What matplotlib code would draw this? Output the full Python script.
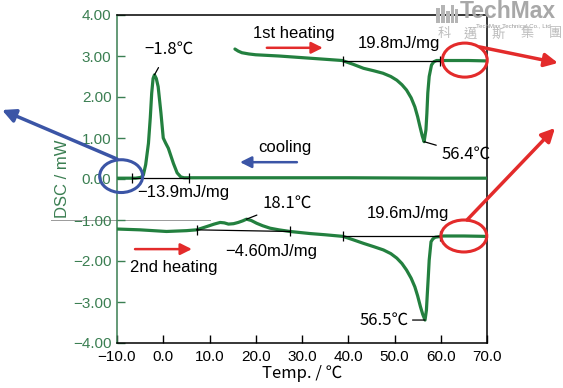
import numpy as np
import matplotlib.pyplot as plt
from matplotlib.patches import Ellipse, FancyArrowPatch, Rectangle

plt.rcParams['font.family'] = ['Liberation Sans', 'Noto Sans CJK JP']

# ---- data ----
cool_T = [-10, -6, -4.8, -4.3, -3.8, -3.2, -2.8, -2.5, -2.2, -1.9, -1.5, -1.1, -0.5, 0.0,
          0.5, 1.1, 2.2, 3.0, 3.8, 4.5, 10, 40, 60, 70]
cool_Q = [0.02, 0.02, 0.04, 0.10, 0.35, 0.87, 1.50, 2.09, 2.45, 2.54, 2.45, 2.25, 1.61, 1.00,
          0.88, 0.75, 0.38, 0.15, 0.05, 0.03, 0.03, 0.03, 0.02, 0.02]

heat1_T = [15.5, 16.2, 17, 18.5, 20, 25, 30, 35, 38.7, 41, 43.3, 45.5, 47.5, 49.2, 50.5,
           51.6, 52.6, 53.6, 54.4, 55.0, 55.5, 56.0, 56.4, 56.8, 57.0, 57.2, 57.5, 58.0,
           58.5, 59.1, 62, 66, 70]
heat1_Q = [3.17, 3.12, 3.08, 3.05, 3.03, 3.00, 2.96, 2.92, 2.89, 2.80, 2.70, 2.64, 2.58,
           2.50, 2.41, 2.30, 2.17, 1.98, 1.76, 1.52, 1.28, 1.05, 0.91, 1.20, 1.60, 2.10,
           2.50, 2.78, 2.86, 2.89, 2.89, 2.89, 2.88]

heat2_T = [-10, -5, 0.7, 5, 7.2, 9.4, 11, 12.3, 13.2, 14.1, 15.2, 16.2, 17.2, 18.0, 19.0,
           20.2, 21.5, 23.1, 25, 27.4, 31.7, 35, 38.9, 41, 43.3, 45.5, 47.6, 49.2, 50.5,
           51.6, 52.6, 53.6, 54.4, 55.0, 55.6, 56.1, 56.6, 56.9, 57.1, 57.3, 57.5, 57.9,
           58.3, 58.8, 60.6, 65, 70]
heat2_Q = [-1.22, -1.24, -1.28, -1.26, -1.24, -1.16, -1.10, -1.06, -1.07, -1.10, -1.09,
           -1.06, -1.02, -0.98, -1.01, -1.08, -1.14, -1.20, -1.24, -1.28, -1.33, -1.36,
           -1.40, -1.48, -1.57, -1.65, -1.73, -1.82, -1.93, -2.06, -2.22, -2.42, -2.63,
           -2.85, -3.11, -3.30, -3.44, -3.20, -2.79, -2.40, -1.98, -1.53, -1.46, -1.42,
           -1.39, -1.39, -1.40]

# integration baselines
base_cool = ([-6.8, 5.6], [0.02, 0.02])
base_h1 = ([38.8, 59.8], [2.89, 2.89])
base_h2a = ([7.2, 27.4], [-1.24, -1.28])
base_h2b = ([38.9, 59.8], [-1.40, -1.40])

enthalpy = ['−13.9mJ/mg', '19.8mJ/mg', '−4.60mJ/mg', '19.6mJ/mg']
peak_labels = ['−1.8℃', '56.4℃', '18.1℃', '56.5℃']

xticks = [-10, 0, 10, 20, 30, 40, 50, 60, 70]
yticks = [-4, -3, -2, -1, 0, 1, 2, 3, 4]

green = '#23803f'
tickgreen = '#3b7f52'
red = '#e32b2b'
blue = '#3b55a6'
cjk = ['Noto Sans CJK JP']

W, H = 563, 388
fig = plt.figure(figsize=(W / 100, H / 100), dpi=100)
ax = fig.add_axes([117 / W, 1 - 343 / H, 370 / W, 328 / H])

def px(x, y):
    # figure pixel (from top-left) to figure fraction
    return (x / W, 1 - y / H)

for T, Q in [(cool_T, cool_Q), (heat1_T, heat1_Q), (heat2_T, heat2_Q)]:
    ax.plot(T, Q, color=green, lw=2.3, solid_capstyle='round', zorder=3)

for bx, by in [base_cool, base_h1, base_h2a, base_h2b]:
    ax.plot(bx, by, color='black', lw=0.9, marker='|', ms=7, mew=0.9, zorder=4)

ax.set_xlim(-10, 70)
ax.set_ylim(-4, 4)
ax.set_xticks(xticks)
ax.set_xticklabels([f'{v:.1f}'.replace('-', '−') for v in xticks])
ax.set_yticks(yticks)
ax.set_yticklabels([f'{v:.2f}'.replace('-', '−') for v in yticks])
ax.tick_params(axis='x', direction='in', length=6, width=1, labelsize=11, pad=5)
ax.tick_params(axis='y', direction='in', length=6, width=1, labelsize=11, pad=4,
               colors=tickgreen)
ax.spines['left'].set_color(tickgreen)
for s in ['top', 'right', 'bottom']:
    ax.spines[s].set_color('black')
for s in ax.spines.values():
    s.set_linewidth(1.1)

ax.set_ylabel('DSC / mW', color=tickgreen, fontsize=12)
ax.yaxis.set_label_coords(-0.128, 0.5)
ax.set_xlabel('Temp. / ℃', fontsize=12, family=cjk)
ax.xaxis.set_label_coords(0.5, -0.068)

# faint guide line at -1.00 reaching out of the axes
ax.plot([-24.3, 10], [-1.0, -1.0], color='#9a9a9a', lw=0.7, clip_on=False, zorder=1)

# peak annotations
i = int(np.argmax(cool_Q))
ax.annotate(peak_labels[0], xy=(cool_T[i], cool_Q[i]), xytext=(1.2, 3.17),
            ha='center', va='center', fontsize=12, family=cjk,
            arrowprops=dict(arrowstyle='-', lw=0.9, color='black', shrinkA=6, shrinkB=0))
i = int(np.argmin(heat1_Q))
ax.annotate(peak_labels[1], xy=(heat1_T[i], heat1_Q[i]), xytext=(60.2, 0.61),
            ha='left', va='center', fontsize=12, family=cjk,
            arrowprops=dict(arrowstyle='-', lw=0.9, color='black', shrinkA=2, shrinkB=0))
i = int(np.argmax(heat2_Q))
ax.annotate(peak_labels[2], xy=(heat2_T[i], heat2_Q[i]), xytext=(21.4, -0.59),
            ha='left', va='center', fontsize=12, family=cjk,
            arrowprops=dict(arrowstyle='-', lw=0.9, color='black', shrinkA=2, shrinkB=0))
i = int(np.argmin(heat2_Q))
ax.annotate(peak_labels[3], xy=(heat2_T[i], heat2_Q[i]), xytext=(53.0, -3.44),
            ha='right', va='center', fontsize=12, family=cjk,
            arrowprops=dict(arrowstyle='-', lw=0.9, color='black', shrinkA=1, shrinkB=0))

# enthalpy labels
ax.text(-5.7, -0.32, enthalpy[0], ha='left', va='center', fontsize=12)
ax.text(51.0, 3.30, enthalpy[1], ha='center', va='center', fontsize=12)
ax.text(13.4, -1.78, enthalpy[2], ha='left', va='center', fontsize=12)
ax.text(52.9, -0.85, enthalpy[3], ha='center', va='center', fontsize=12)

# scan direction labels and arrows
ax.text(19.4, 3.56, '1st heating', ha='left', va='center', fontsize=12)
ax.text(20.5, 0.76, 'cooling', ha='left', va='center', fontsize=12)
ax.text(-7.2, -2.17, '2nd heating', ha='left', va='center', fontsize=12)
for (x0, x1, y, c) in [(22.4, 34.5, 3.20, red), (28.9, 16.6, 0.41, blue), (-6.1, 6.2, -1.71, red)]:
    ax.add_patch(FancyArrowPatch((x0, y), (x1, y), arrowstyle='-|>', mutation_scale=17,
                                 lw=1.8, color=c, shrinkA=0, shrinkB=0))

# highlight ellipses
ax.add_patch(Ellipse((-9.1, 0.07), 9.3, 0.80, fill=False, ec=blue, lw=2.2, clip_on=False, zorder=5))
ax.add_patch(Ellipse((65.2, 2.90), 9.7, 0.83, fill=False, ec=red, lw=2.2, clip_on=False, zorder=5))
ax.add_patch(Ellipse((65.0, -1.39), 9.9, 0.78, fill=False, ec=red, lw=2.2, clip_on=False, zorder=5))

# arrows leaving the plot
for (p0, p1, c) in [((117, 159), (2, 110), blue), ((480, 47), (558, 63), red),
                    ((467, 220), (555, 128), red)]:
    fig.add_artist(FancyArrowPatch(px(*p0), px(*p1), transform=fig.transFigure,
                                   arrowstyle='-|>', mutation_scale=20, lw=2.5,
                                   color=c, shrinkA=0, shrinkB=0))

# watermark
logo = [(436, 8, 4, 15), (441, 5, 4, 18), (446, 11, 4, 12), (451, 5, 3, 18), (455, 9, 3, 14)]
for (lx, ly, lw_, lh) in logo:
    fig.add_artist(Rectangle(px(lx, ly + lh), lw_ / W, lh / H, transform=fig.transFigure,
                             color='#b5b5b5', lw=0))
fig.text(*px(460, 11), 'TechMax', fontsize=16.5, fontweight='bold', color='#a8a8a8',
         ha='left', va='center')
fig.text(*px(513, 26), 'TechMax Technical Co., Ltd', fontsize=4.4, color='#9a9a9a',
         ha='center', va='center')
for ch, cx in zip('科邁斯集團', [444, 470, 498, 527, 555]):
    fig.text(*px(cx, 34), ch, fontsize=9.5, color='#bdbdbd', ha='center', va='center',
             family=['Noto Sans CJK TC'])

fig.savefig('out.png', dpi=100)
